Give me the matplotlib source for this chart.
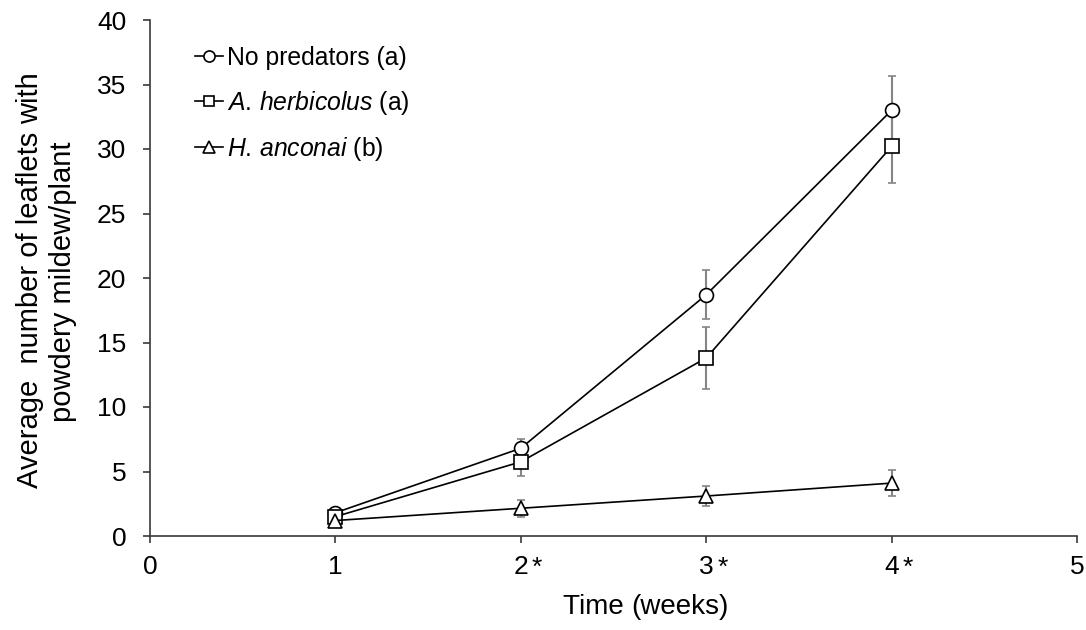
import matplotlib
matplotlib.use("Agg")
import matplotlib.pyplot as plt
from matplotlib import font_manager
from matplotlib.transforms import offset_copy

plt.rcParams["font.family"] = ["Liberation Sans", "DejaVu Sans"]
plt.rcParams["mathtext.fontset"] = "custom"
plt.rcParams["mathtext.rm"] = "Liberation Sans"
plt.rcParams["mathtext.it"] = "Liberation Sans:italic"

# narrow face for tick labels and the small title parts
try:
    font_manager.findfont("Liberation Sans Narrow", fallback_to_default=False)
    NARROW = ["Liberation Sans Narrow", "DejaVu Sans"]
except Exception:
    NARROW = ["Liberation Sans", "DejaVu Sans"]

# weeks after release, mean infected leaflets per plant, +/- SE
weeks = [1, 2, 3, 4]
no_pred = [1.8, 6.8, 18.7, 33.0]
no_pred_err = [0.3, 0.7, 1.9, 2.65]
a_herb = [1.5, 5.75, 13.8, 30.2]
a_herb_err = [0.3, 1.1, 2.4, 2.8]
h_anc = [1.2, 2.15, 3.1, 4.1]
h_anc_err = [0.3, 0.65, 0.8, 1.0]

series = [
    ("No predators (a)", no_pred, no_pred_err, "o"),
    (r"$\mathit{A.\,herbicolus}$ (a)", a_herb, a_herb_err, "s"),
    (r"$\mathit{H.\,anconai}$ (b)", h_anc, h_anc_err, "^"),
]

x_ticks = [0, 1, 2, 3, 4, 5]
sig_weeks = [2, 3, 4]          # weeks with a significant treatment effect
y_ticks = [0, 5, 10, 15, 20, 25, 30, 35, 40]

AX_COL = "#3a3a3a"
ERR_COL = "#858585"
W, H = 1086, 630

fig = plt.figure(figsize=(W / 100, H / 100), dpi=100)
ax = fig.add_axes([150 / W, (H - 536) / H, (1077 - 150) / W, (536 - 20) / H])

for label, y, e, m in series:
    ax.errorbar(weeks, y, yerr=e, fmt="none", ecolor=ERR_COL, elinewidth=1.5,
                capsize=3, capthick=1.2, zorder=2)
    ax.plot(weeks, y, color="black", lw=1.2, marker=m, ms=10 if m != "s" else 9.5,
            mfc="white", mec="black", mew=1.2, label=label, zorder=3)

ax.set_xlim(0, 5)
ax.set_ylim(0, 40)
ax.set_xticks(x_ticks)
ax.set_xticklabels([str(t) for t in x_ticks], family=NARROW)
ax.set_yticks(y_ticks)
ax.set_yticklabels([str(t) for t in y_ticks], family=NARROW)
for s in ("top", "right"):
    ax.spines[s].set_visible(False)
for s in ("left", "bottom"):
    ax.spines[s].set_color(AX_COL)
    ax.spines[s].set_linewidth(1.2)
ax.tick_params(axis="both", direction="out", length=5, width=1.2, color=AX_COL,
               labelsize=19)
ax.tick_params(axis="y", pad=12)
ax.tick_params(axis="x", pad=9)

# significance stars next to the week labels
for w in sig_weeks:
    tr = offset_copy(ax.get_xaxis_transform(), fig=fig, x=8, y=-14, units="points")
    ax.text(w, 0, "*", transform=tr, ha="left", va="top", fontsize=19, family=NARROW)

leg = ax.legend(loc="upper left", bbox_to_anchor=(195 / W, (H - 46) / H),
                bbox_transform=fig.transFigure, frameon=False, borderpad=0,
                borderaxespad=0, fontsize=17.8, handlelength=1.12,
                handletextpad=0.16, labelspacing=0.75, markerscale=0.8)

# axis titles with a narrow second part, placed from measured extents
fig.canvas.draw()
r = fig.canvas.get_renderer()

t1 = fig.text(563 / W, (H - 614) / H, "Time ", fontsize=20, ha="left", va="baseline")
w1 = t1.get_window_extent(r).width
fig.text((563 + w1) / W, (H - 614) / H, "(weeks)", fontsize=20, family=NARROW,
         ha="left", va="baseline")

y1 = fig.text(0, 0, "Average  number of leaflets ", fontsize=21, rotation=90,
              ha="left", va="baseline", rotation_mode="anchor")
y2 = fig.text(0, 0, "with", fontsize=21, family=NARROW, rotation=90,
              ha="left", va="baseline", rotation_mode="anchor")
h1 = y1.get_window_extent(r).height
h2 = y2.get_window_extent(r).height
ybot = (H - 280) - (h1 + h2) / 2
y1.set_position((38 / W, ybot / H))
y2.set_position((38 / W, (ybot + h1) / H))
fig.text(71 / W, (H - 282) / H, "powdery mildew/plant", fontsize=21,
         rotation=90, ha="center", va="baseline", rotation_mode="anchor")

fig.savefig("out.png", dpi=100)
